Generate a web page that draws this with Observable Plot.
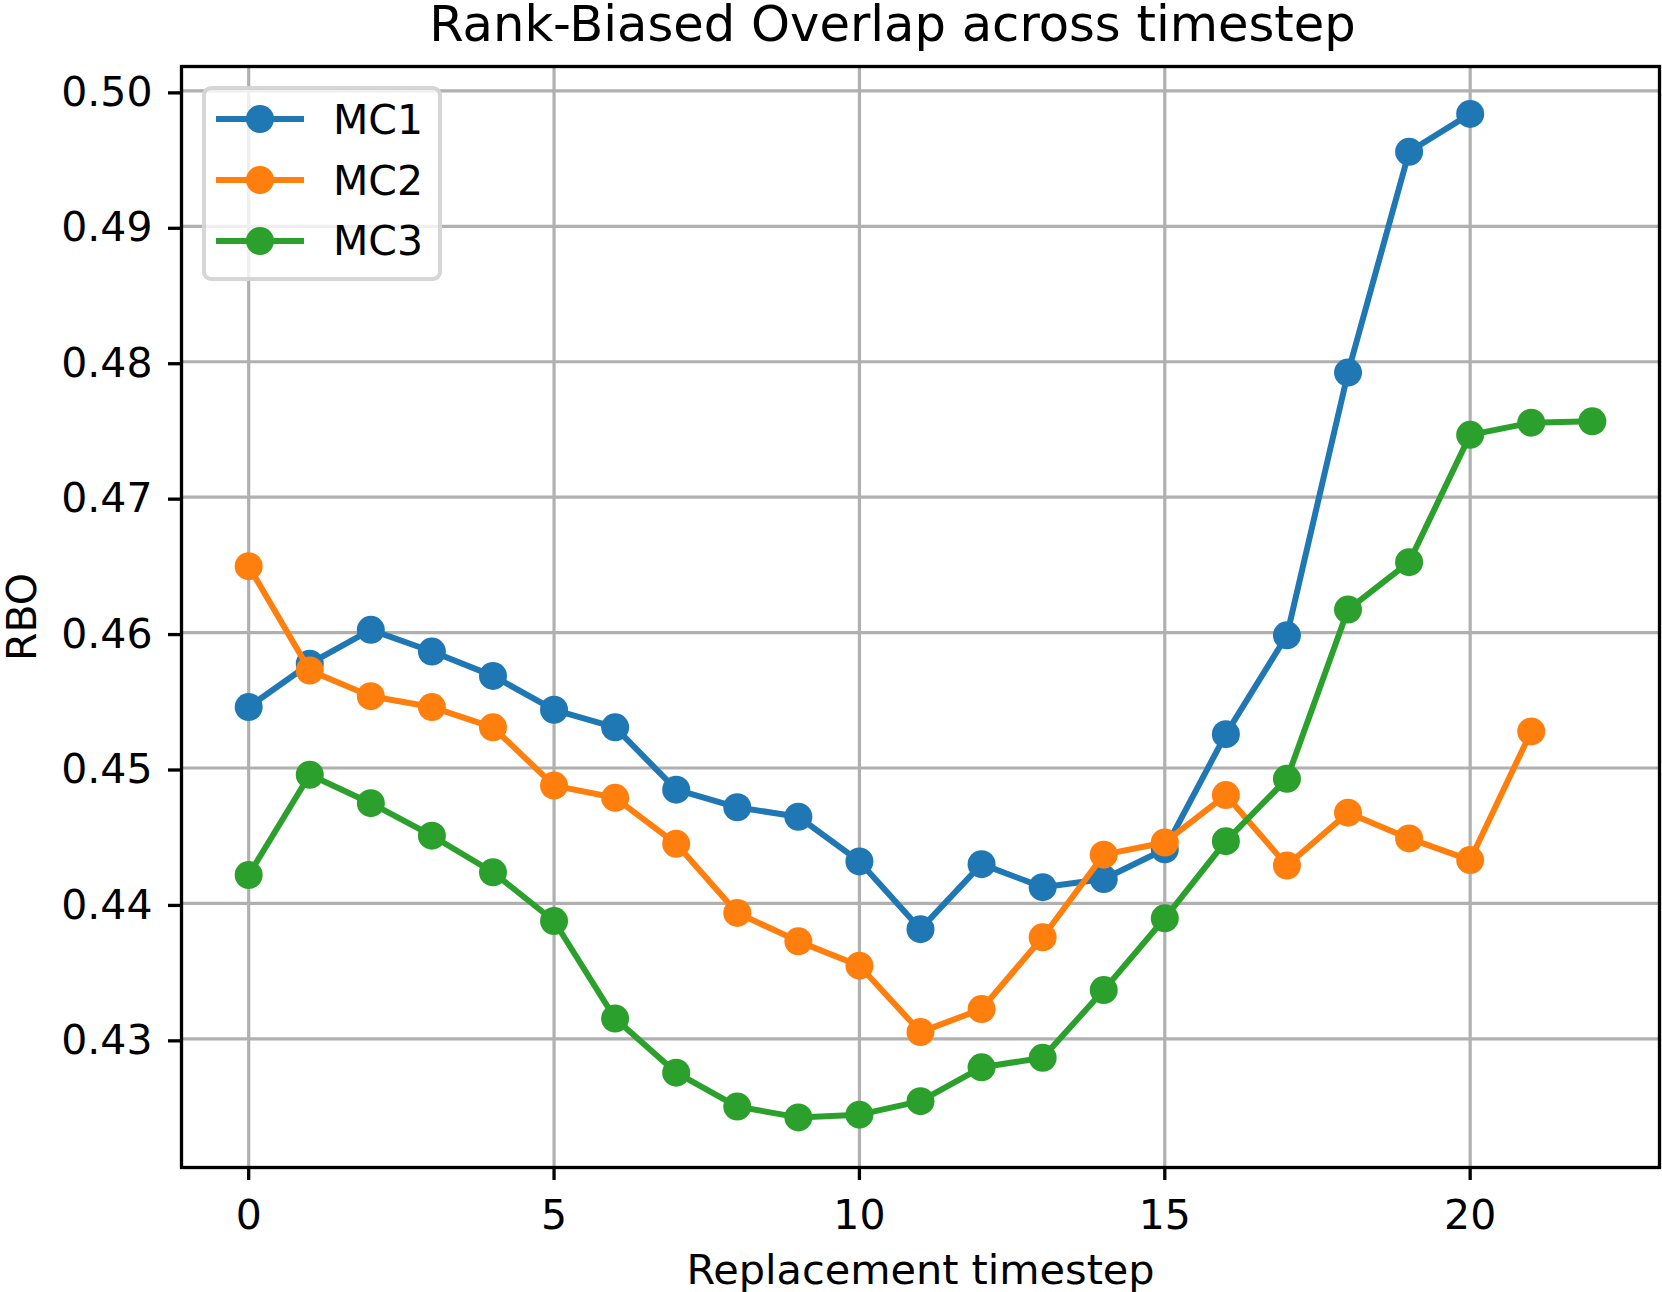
<!DOCTYPE html>
<html>
<head>
<meta charset="utf-8">
<script src="https://cdn.jsdelivr.net/npm/d3@7"></script>
<script src="https://cdn.jsdelivr.net/npm/@observablehq/plot@0.6"></script>
<style>
  html, body { margin: 0; padding: 0; background: #ffffff; }
  #wrap { position: relative; width: 1662px; height: 1292px; font-family: "DejaVu Sans", sans-serif; }
  #legend {
    position: absolute; left: 202px; top: 86px; width: 240px; height: 195px;
    box-sizing: border-box; border: 4px solid rgba(204,204,204,0.8); border-radius: 9px;
    background: rgba(255,255,255,0.8);
  }
  .lg-line { position: absolute; left: 10px; width: 88px; height: 6px; }
  .lg-dot { position: absolute; left: 40px; width: 28px; height: 28px; border-radius: 50%; }
  .lg-text { position: absolute; left: 127px; font-size: 41px; line-height: 41px; color: #000; white-space: nowrap; }
</style>
</head>
<body>
<div id="wrap"></div>
<script>
const titleText = "Rank-Biased Overlap across timestep";
const xLabel = "Replacement timestep";
const yLabel = "RBO";
const seriesNames = ["MC1", "MC2", "MC3"];
const seriesColors = ["#1f77b4", "#ff7f0e", "#2ca02c"];

const mc1 = [0.4545, 0.4577, 0.4602, 0.4586, 0.4568, 0.4543, 0.4530, 0.4484, 0.4471, 0.4464, 0.4431,
             0.4381, 0.4429, 0.4412, 0.4418, 0.4440, 0.4525, 0.4598, 0.4792, 0.4955, 0.4983];
const mc2 = [0.4649, 0.4572, 0.4553, 0.4545, 0.4530, 0.4487, 0.4478, 0.4444, 0.4393, 0.4372, 0.4354,
             0.4305, 0.4322, 0.4375, 0.4436, 0.4445, 0.4480, 0.4428, 0.4467, 0.4448, 0.4432, 0.4527];
const mc3 = [0.4421, 0.4495, 0.4474, 0.4450, 0.4423, 0.4387, 0.4315, 0.4275, 0.4250, 0.4242, 0.4244,
             0.4254, 0.4279, 0.4286, 0.4336, 0.4389, 0.4446, 0.4492, 0.4617, 0.4652, 0.4746, 0.4755, 0.4756];

const xTicks = [0, 5, 10, 15, 20];
const yTicks = [0.43, 0.44, 0.45, 0.46, 0.47, 0.48, 0.49, 0.50];

const seriesValues = [mc1, mc2, mc3];
const rows = seriesValues.map((vals, k) => vals.map((v, i) => ({t: i, v, s: seriesNames[k]})));

const seriesMarks = rows.flatMap(data => [
  Plot.line(data, {x: "t", y: "v", stroke: "s", strokeWidth: 6, strokeLinejoin: "round", strokeLinecap: "butt"}),
  Plot.dot(data, {x: "t", y: "v", fill: "s", r: 14, stroke: null})
]);

const chart = Plot.plot({
  width: 1662,
  height: 1292,
  marginLeft: 181,
  marginRight: 3,
  marginTop: 66,
  marginBottom: 125,
  style: {fontFamily: "DejaVu Sans, sans-serif", background: "#ffffff", color: "#000", overflow: "visible"},
  x: {domain: [-1.1, 23.1]},
  y: {domain: [0.4205, 0.5018]},
  color: {domain: seriesNames, range: seriesColors},
  marks: [
    Plot.gridX(xTicks, {stroke: "#b0b0b0", strokeOpacity: 1, strokeWidth: 3.2}),
    Plot.gridY(yTicks, {stroke: "#b0b0b0", strokeOpacity: 1, strokeWidth: 3.2}),
    ...seriesMarks,
    Plot.frame({stroke: "#000", strokeWidth: 3.3}),
    Plot.axisX(xTicks, {tickSize: 13, tickPadding: 19, fontSize: 41, strokeWidth: 3.3, label: null, tickFormat: d3.format("d")}),
    Plot.axisY(yTicks, {tickSize: 13, tickPadding: 16, fontSize: 41, strokeWidth: 3.3, label: null, tickFormat: d3.format(".2f"), dy: 2}),
    Plot.text([yLabel], {frameAnchor: "left", rotate: -90, dx: -146, lineAnchor: "bottom", textAnchor: "middle", fontSize: 41, fill: "#000"}),
    Plot.text([xLabel], {frameAnchor: "bottom", dy: 116, lineAnchor: "bottom", textAnchor: "middle", fontSize: 41.4, fill: "#000"}),
    Plot.text([titleText], {frameAnchor: "top", dx: -28, dy: -26, lineAnchor: "bottom", textAnchor: "middle", fontSize: 49.6, fill: "#000"})
  ]
});

const wrap = document.getElementById("wrap");
wrap.appendChild(chart);

// Legend (line + marker swatches)
const legend = document.createElement("div");
legend.id = "legend";
const rowCenters = [29.3, 90.3, 151];
seriesNames.forEach((name, k) => {
  const c = rowCenters[k];
  const line = document.createElement("div");
  line.className = "lg-line";
  line.style.top = (c - 3) + "px";
  line.style.background = seriesColors[k];
  const dot = document.createElement("div");
  dot.className = "lg-dot";
  dot.style.top = (c - 14) + "px";
  dot.style.background = seriesColors[k];
  const txt = document.createElement("div");
  txt.className = "lg-text";
  txt.style.top = (c + 15 - 34.7) + "px";
  txt.textContent = name;
  legend.appendChild(line);
  legend.appendChild(dot);
  legend.appendChild(txt);
});
wrap.appendChild(legend);
</script>
</body>
</html>
